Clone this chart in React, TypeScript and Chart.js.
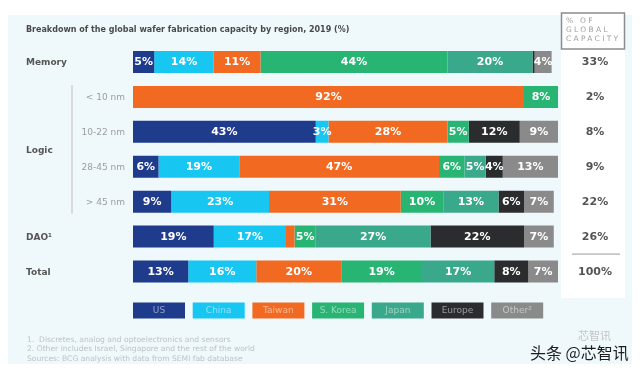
import React, { useEffect, useRef } from "react";
import { Chart, registerables } from "chart.js";

Chart.register(...registerables);

const rowKeys = ["Memory", "< 10 nm", "10-22 nm", "28-45 nm", "> 45 nm", "DAO¹", "Total"];
const mainLabels = ["Memory", "", "", "", "", "DAO¹", "Total"];
const subLabels = ["", "< 10 nm", "10-22 nm", "28-45 nm", "> 45 nm", "", ""];
const groupLabel = "Logic";
const shareOfGlobal = ["33%", "2%", "8%", "9%", "22%", "26%", "100%"];

const regions = ["US", "China", "Taiwan", "S. Korea", "Japan", "Europe", "Other²"];
const usValues = [5, 0, 43, 6, 9, 19, 13];
const chinaValues = [14, 0, 3, 19, 23, 17, 16];
const taiwanValues = [11, 92, 28, 47, 31, 2, 20];
const koreaValues = [44, 8, 5, 6, 10, 5, 19];
const japanValues = [20, 0, 0, 5, 13, 27, 17];
const europeValues = [0.5, 0, 12, 4, 6, 22, 8];
const otherValues = [4, 0, 9, 13, 7, 7, 7];

const regionColors = ["#1f3b8c", "#18c6f2", "#f26a22", "#28b574", "#3aa88a", "#2a2c2e", "#8a8a8a"];

const title = "Breakdown of the global wafer fabrication capacity by region, 2019 (%)";
const headerLines = ["% OF", "GLOBAL", "CAPACITY"];
const footnotes = [
  "1.  Discretes, analog and optoelectronics and sensors",
  "2. Other includes Israel, Singapore and the rest of the world",
  "Sources: BCG analysis with data from SEMI fab database",
];
const watermark = "头条 @芯智讯";
const watermarkSmall = "芯智讯";

const seriesValues = [usValues, chinaValues, taiwanValues, koreaValues, japanValues, europeValues, otherValues];

const F = "'DejaVu Sans', sans-serif";

const decorPlugin = {
  id: "decor",
  beforeDraw(chart: any) {
    const ctx = chart.ctx;
    ctx.save();
    ctx.fillStyle = "#ffffff";
    ctx.fillRect(0, 0, chart.width, chart.height);
    ctx.fillStyle = "#eff9fc";
    ctx.fillRect(8, 15, 624, 349);
    ctx.fillStyle = "#ffffff";
    ctx.fillRect(561, 13, 64, 285);
    ctx.restore();
  },
  afterDatasetsDraw(chart: any) {
    const ctx = chart.ctx;
    ctx.save();
    ctx.font = `bold 11px ${F}`;
    ctx.fillStyle = "#ffffff";
    ctx.textAlign = "center";
    ctx.textBaseline = "middle";
    chart.data.datasets.forEach((ds: any, di: number) => {
      const meta = chart.getDatasetMeta(di);
      meta.data.forEach((el: any, i: number) => {
        const v = ds.data[i];
        if (v < 3) return;
        const left = Math.min(el.x, el.base);
        const right = Math.max(el.x, el.base);
        ctx.fillText(`${v}%`, (left + right) / 2, el.y + 0.5);
      });
    });
    ctx.restore();
  },
  afterDraw(chart: any) {
    const ctx = chart.ctx;
    const y = chart.scales.y;
    ctx.save();
    // title
    ctx.fillStyle = "#4a4a4a";
    ctx.font = `bold 8px ${F}`;
    ctx.textBaseline = "middle";
    ctx.textAlign = "left";
    ctx.fillText(title, 26, 29.5);

    // header box
    ctx.strokeStyle = "#8c8c8c";
    ctx.lineWidth = 1.5;
    ctx.strokeRect(561.5, 13, 63, 36);
    ctx.fillStyle = "#a0a0a0";
    ctx.font = `7.5px ${F}`;
    (ctx as any).letterSpacing = "2.3px";
    headerLines.forEach((t, i) => ctx.fillText(t, 566, 21.5 + i * 9));
    (ctx as any).letterSpacing = "0px";

    // row labels
    rowKeys.forEach((_, i) => {
      const py = y.getPixelForValue(i);
      if (mainLabels[i]) {
        ctx.font = `bold 9px ${F}`;
        ctx.fillStyle = "#555555";
        ctx.textAlign = "left";
        ctx.fillText(mainLabels[i], 26, py + 1);
      }
      if (subLabels[i]) {
        ctx.font = `9px ${F}`;
        ctx.fillStyle = "#9c9c9c";
        ctx.textAlign = "right";
        ctx.fillText(subLabels[i], 125, py + 1);
      }
      ctx.font = `bold 11px ${F}`;
      ctx.fillStyle = "#555555";
      ctx.textAlign = "center";
      ctx.fillText(shareOfGlobal[i], 595, py + 0.5);
    });
    // Logic group
    const gy = (y.getPixelForValue(2) + y.getPixelForValue(3)) / 2;
    ctx.font = `bold 9px ${F}`;
    ctx.fillStyle = "#555555";
    ctx.textAlign = "left";
    ctx.fillText(groupLabel, 26, gy + 1);
    ctx.strokeStyle = "#c6c6c6";
    ctx.lineWidth = 1.2;
    ctx.beginPath();
    ctx.moveTo(72, y.getPixelForValue(1) - 12);
    ctx.lineTo(72, y.getPixelForValue(4) + 12);
    ctx.stroke();

    // separator above total
    const sy = (y.getPixelForValue(5) + y.getPixelForValue(6)) / 2;
    ctx.strokeStyle = "#9a9a9a";
    ctx.lineWidth = 1;
    ctx.beginPath();
    ctx.moveTo(572, sy);
    ctx.lineTo(620, sy);
    ctx.stroke();

    // legend
    ctx.font = `9px ${F}`;
    ctx.textAlign = "center";
    regions.forEach((r, i) => {
      const x = 133 + i * 59.7;
      ctx.fillStyle = regionColors[i];
      ctx.fillRect(x, 302.5, 52, 16);
      ctx.fillStyle = "rgba(255,255,255,0.5)";
      ctx.fillText(r, x + 26, 311);
    });

    // footnotes
    ctx.font = `7.6px ${F}`;
    ctx.fillStyle = "#bcc3c6";
    ctx.textAlign = "left";
    footnotes.forEach((t, i) => ctx.fillText(t, 27, 340 + i * 9.5));

    // watermark
    ctx.font = `11px 'Noto Sans CJK SC', sans-serif`;
    ctx.fillStyle = "#c4c4c4";
    ctx.fillText(watermarkSmall, 578, 336);
    ctx.font = `16px 'Noto Sans CJK SC', sans-serif`;
    ctx.fillStyle = "#1e1e1e";
    ctx.fillText(watermark, 530, 353);
    ctx.restore();
  },
};

export default function App() {
  const ref = useRef<HTMLCanvasElement | null>(null);
  useEffect(() => {
    if (!ref.current) return;
    const chart = new Chart(ref.current, {
      type: "bar",
      data: {
        labels: rowKeys,
        datasets: regions.map((r, i) => ({
          label: r,
          data: seriesValues[i],
          backgroundColor: regionColors[i],
          borderWidth: 0,
          barPercentage: 0.63,
          categoryPercentage: 1,
        })),
      },
      options: {
        indexAxis: "y",
        responsive: false,
        animation: false,
        devicePixelRatio: 1,
        layout: { padding: { left: 133, right: 82, top: 44.5, bottom: 82 } },
        plugins: { legend: { display: false }, tooltip: { enabled: false } },
        scales: {
          x: { stacked: true, min: 0, max: 100, display: false },
          y: { stacked: true, display: false },
        },
      },
      plugins: [decorPlugin],
    });
    return () => chart.destroy();
  }, []);
  return (
    <div style={{ position: "absolute", left: 0, top: 0, width: 640, height: 371 }}>
      <canvas ref={ref} width={640} height={371} />
    </div>
  );
}
